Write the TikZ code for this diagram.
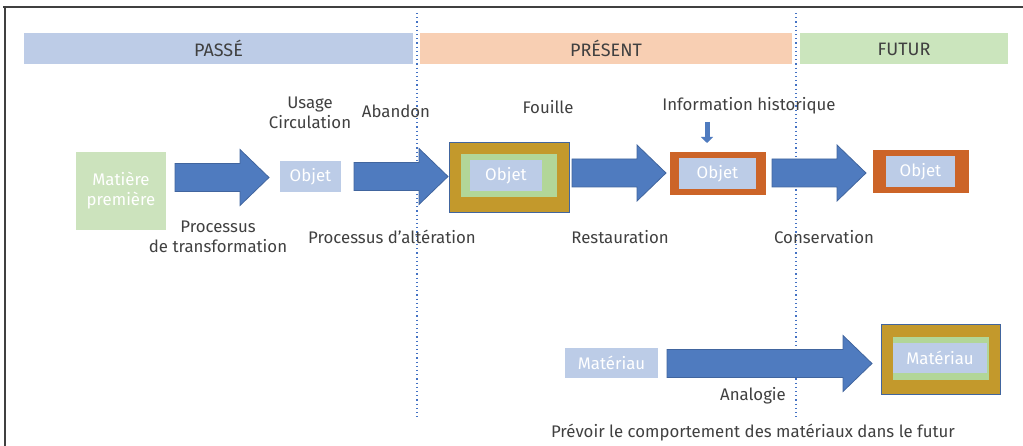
\documentclass[tikz,border=0pt]{standalone}
\usepackage{fontspec}
\setmainfont{Fira Sans}
\usetikzlibrary{calc,arrows.meta}

\definecolor{passe}{HTML}{BDCCE7}
\definecolor{present}{HTML}{F8CFB3}
\definecolor{futur}{HTML}{CBE5BD}
\definecolor{matiere}{HTML}{CCE3BD}
\definecolor{objet}{HTML}{BCCCE7}
\definecolor{arrowblue}{HTML}{4F7BBF}
\definecolor{arrowedge}{HTML}{41659E}
\definecolor{gold}{HTML}{C3992C}
\definecolor{leaf}{HTML}{B2D698}
\definecolor{rust}{HTML}{CC6428}
\definecolor{ink}{HTML}{404040}
\definecolor{divblue}{HTML}{4472C4}

% block arrow from start coordinate #1 to tip coordinate #2
\newcommand{\fatarrow}[2]{%
  \filldraw[arrowbody] ($(#1)+(0,-14)$) -- ($(#2)+(-29,-14)$) -- ($(#2)+(-29,-28)$) -- (#2)
    -- ($(#2)+(-29,28)$) -- ($(#2)+(-29,14)$) -- ($(#1)+(0,14)$) -- cycle;}

\begin{document}
\begin{tikzpicture}
            [x=1pt,y=-1pt,font=\fontsize{16.8}{20}\selectfont,
             every node/.style={inner sep=0pt,text=ink},
             bar/.style={minimum height=31pt,font=\fontsize{18}{20}\selectfont},
             box/.style={text=white,align=center},
             arrowbody/.style={fill=arrowblue,draw=arrowedge,line width=0.8pt},
             divider/.style={divblue,dash pattern=on 1.2pt off 3pt,line width=1.1pt},
             frameline/.style={draw=black!75,line width=1.6pt}]
            \useasboundingbox (0,0) rectangle (1023,446);
            \draw[frameline] (3,7) -- (1023,7);
            \draw[frameline] (5,7) -- (5,446);
            %
            \node[bar,fill=passe,minimum width=389pt] (passe) at (218.5,48.5) {PASSÉ};
            \node[bar,fill=present,minimum width=372pt] (present) at (606,48.5) {PRÉSENT};
            \node[bar,fill=futur,minimum width=208pt] (futur) at (904,49) {FUTUR};
            \draw[divider] (417,13) -- (417,418);
            \draw[divider] (796,13) -- (796,418);
            %
            \node[box,fill=matiere,minimum width=90pt,minimum height=78pt] (matiere) at (121,191) {Matière\\première};
            \node[box,fill=objet,minimum width=61pt,minimum height=31pt] (obja) at (310.5,176.5) {Objet};
            %
            \node[fill=gold,draw=arrowedge,line width=0.6pt,minimum width=120pt,minimum height=70pt] (fouille) at (509,177) {};
            \node[fill=leaf,minimum width=96pt,minimum height=43pt] (fouillein) at (509,175.5) {};
            \node[box,fill=objet,minimum width=72pt,minimum height=31pt] (objb) at (506,175.5) {Objet};
            %
            \node[fill=rust,minimum width=96pt,minimum height=43pt] (resto) at (718,173.5) {};
            \node[box,fill=objet,minimum width=77pt,minimum height=31pt] (objc) at (717.5,173.5) {Objet};
            %
            \node[fill=rust,minimum width=96pt,minimum height=43pt] (conserv) at (921,171.5) {};
            \node[box,fill=objet,minimum width=69pt,minimum height=31pt] (objd) at (920.5,171.5) {Objet};
            %
            \node[box,fill=objet,minimum width=93pt,minimum height=30pt] (mata) at (611.5,363) {Matériau};
            \node[fill=gold,draw=arrowedge,line width=0.6pt,minimum width=119pt,minimum height=70pt] (matb) at (940.5,359) {};
            \node[fill=leaf,minimum width=96pt,minimum height=43pt] (matbin) at (941,358.5) {};
            \node[box,fill=objet,minimum width=94pt,minimum height=30pt] (matbobj) at (940,358) {Matériau};
            %
            \node[align=center] (usage) at (310,113) {Usage\\Circulation};
            \node (abandon) at (396,111) {Abandon};
            \node (fouilletxt) at (548,107) {Fouille};
            \node (info) at (749,106) {Information historique};
            \node[align=center] (transfo) at (218,237) {Processus\\de transformation};
            \node (alter) at (392,237) {Processus d’altération};
            \node (restotxt) at (620,237) {Restauration};
            \node (conservtxt) at (824,237) {Conservation};
            \node (analogie) at (753,396) {Analogie};
            \node (prevoir) at (753,433) {Prévoir le comportement des matériaux dans le futur};
            %
            \coordinate (a1s) at (175,177.5);
            \coordinate (a1t) at (269,177.5);
            \coordinate (a2s) at (354,176.5);
            \coordinate (a2t) at (448,176.5);
            \coordinate (a3s) at (572,173);
            \coordinate (a3t) at (666,173);
            \coordinate (a4s) at (772,173);
            \coordinate (a4t) at (866,173);
            \coordinate (a5s) at (667,363.5);
            \coordinate (a5t) at (872,363.5);
            \fatarrow{a1s}{a1t}
            \fatarrow{a2s}{a2t}
            \fatarrow{a3s}{a3t}
            \fatarrow{a4s}{a4t}
            \fatarrow{a5s}{a5t}
            %
            \coordinate (infos) at (707,122);
            \coordinate (infot) at (707,143);
            \draw[arrowblue,line width=5pt,-{Triangle[width=12pt,length=6pt]}] (infos) -- (infot);
        \end{tikzpicture}
\end{document}
